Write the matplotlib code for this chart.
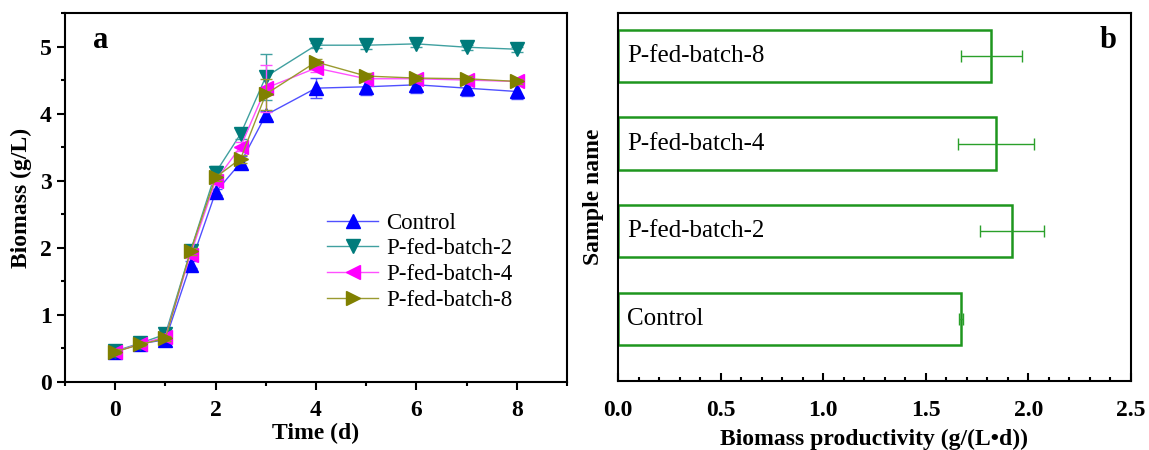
import numpy as np
import matplotlib
matplotlib.use('Agg')
import matplotlib.pyplot as plt
from matplotlib.ticker import MultipleLocator

plt.rcParams['font.family'] = ['Liberation Serif', 'DejaVu Serif']

# Panel a: biomass over time
time_d = [0, 0.5, 1, 1.5, 2, 2.5, 3, 4, 5, 6, 7, 8]
control = [0.45, 0.57, 0.63, 1.75, 2.83, 3.27, 3.98, 4.38, 4.40, 4.43, 4.38, 4.33]
control_err = [0.04, 0.03, 0.04, 0.05, 0.05, 0.10, 0.06, 0.15, 0.12, 0.12, 0.12, 0.11]
pfb2 = [0.46, 0.58, 0.71, 1.95, 3.12, 3.70, 4.55, 5.02, 5.02, 5.04, 4.99, 4.96]
pfb2_err = [0.04, 0.03, 0.04, 0.05, 0.10, 0.08, 0.34, 0.04, 0.05, 0.04, 0.04, 0.04]
pfb4 = [0.45, 0.57, 0.67, 1.90, 3.00, 3.51, 4.38, 4.68, 4.52, 4.52, 4.50, 4.48]
pfb4_err = [0.04, 0.03, 0.04, 0.05, 0.05, 0.06, 0.35, 0.06, 0.04, 0.04, 0.04, 0.04]
pfb8 = [0.45, 0.56, 0.65, 1.95, 3.05, 3.33, 4.29, 4.77, 4.56, 4.53, 4.52, 4.48]
pfb8_err = [0.04, 0.03, 0.04, 0.05, 0.05, 0.06, 0.23, 0.05, 0.04, 0.04, 0.04, 0.04]

# Panel b: biomass productivity
samples = ['Control', 'P-fed-batch-2', 'P-fed-batch-4', 'P-fed-batch-8']
productivity = [1.67, 1.92, 1.84, 1.82]
productivity_err = [0.01, 0.155, 0.185, 0.15]

fig = plt.figure(figsize=(11.49, 4.5), dpi=100)
ax1 = fig.add_axes([65 / 1149, 1 - 382 / 450, 502 / 1149, 369 / 450])
ax2 = fig.add_axes([618 / 1149, 1 - 381 / 450, 513 / 1149, 368 / 450])

series = [
    ('Control', control, control_err, '^', '#0000ff', '#5050ff'),
    ('P-fed-batch-2', pfb2, pfb2_err, 'v', '#007b7b', '#40a0a0'),
    ('P-fed-batch-4', pfb4, pfb4_err, '<', '#ff00ff', '#ff50ff'),
    ('P-fed-batch-8', pfb8, pfb8_err, '>', '#808000', '#9a9a30'),
]
for name, vals, errs, mk, mcol, lcol in series:
    ax1.errorbar(time_d, vals, yerr=errs, fmt='none', ecolor=lcol,
                 elinewidth=1.0, capsize=4, capthick=1.0)
    ax1.plot(time_d, vals, color=lcol, lw=1.0, marker=mk, markersize=10,
             markerfacecolor=mcol, markeredgecolor=mcol, label=name)

ax1.set_xlim(-1, 9)
ax1.set_ylim(0, 5.5)
ax1.xaxis.set_major_locator(MultipleLocator(2))
ax1.xaxis.set_minor_locator(MultipleLocator(1))
ax1.yaxis.set_major_locator(MultipleLocator(1))
ax1.yaxis.set_minor_locator(MultipleLocator(0.5))
ax1.tick_params(which='both', direction='out', top=False, right=False, width=1.5)
ax1.tick_params(which='major', length=6, labelsize=17)
ax1.tick_params(axis='x', which='major', pad=7)
ax1.tick_params(which='minor', length=3)
for lab in ax1.get_xticklabels() + ax1.get_yticklabels():
    lab.set_fontweight('bold')
ax1.set_xlabel('Time (d)', fontsize=17, fontweight='bold', labelpad=1)
ax1.set_ylabel('Biomass (g/L)', fontsize=17, fontweight='bold', labelpad=6)
ax1.text(0.055, 0.925, 'a', transform=ax1.transAxes, fontsize=22, fontweight='bold',
         va='center', ha='left')
ax1.legend(loc='upper left', bbox_to_anchor=(0.50, 0.49), frameon=False,
           fontsize=16.5, handlelength=2.2, handletextpad=0.35, labelspacing=0.2,
           borderpad=0)

# Panel b
ypos = np.arange(1, len(samples) + 1)
ax2.barh(ypos, productivity, height=0.6, color='white', edgecolor='#1e961e', linewidth=1.8)
ax2.errorbar(productivity, ypos, xerr=productivity_err, fmt='none', ecolor='#2aa02a',
             elinewidth=1.0, capsize=4, capthick=1.0)
for y, name in zip(ypos, samples):
    ax2.text(0.045, y, name, fontsize=18, va='center', ha='left')
ax2.set_xlim(0, 2.5)
ax2.set_ylim(0.29, 4.49)
ax2.xaxis.set_major_locator(MultipleLocator(0.5))
ax2.xaxis.set_minor_locator(MultipleLocator(0.1))
ax2.set_yticks([])
ax2.tick_params(which='both', direction='in', top=False, right=False, width=1.5)
ax2.tick_params(which='major', length=6, labelsize=17, pad=14)
ax2.tick_params(which='minor', length=3)
for lab in ax2.get_xticklabels():
    lab.set_fontweight('bold')
ax2.set_xlabel('Biomass productivity (g/(L\u2022d))', fontsize=17, fontweight='bold', labelpad=5)
ax2.set_ylabel('Sample name', fontsize=17, fontweight='bold', labelpad=10)
ax2.text(0.955, 0.925, 'b', transform=ax2.transAxes, fontsize=22, fontweight='bold',
         va='center', ha='center')

for ax in (ax1, ax2):
    for sp in ax.spines.values():
        sp.set_linewidth(1.5)

fig.savefig('out.png', dpi=100)
